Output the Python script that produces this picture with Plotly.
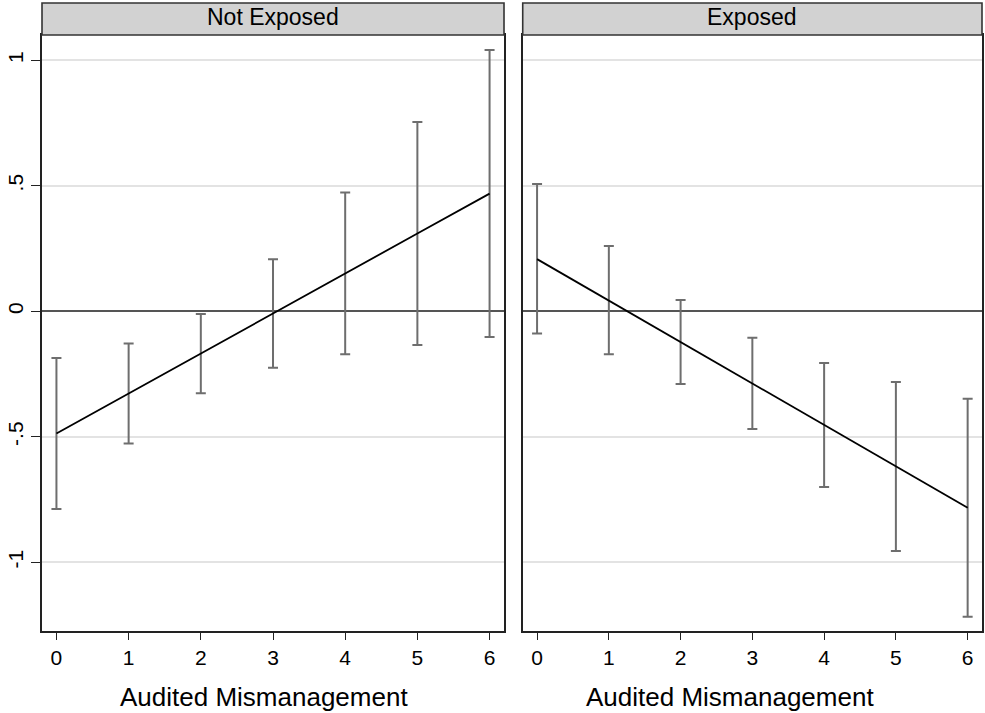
import plotly.graph_objects as go

# ---- data ----
x_vals = [0, 1, 2, 3, 4, 5, 6]
panels = ["Not Exposed", "Exposed"]

est_not_exposed = [-0.487, -0.327, -0.168, -0.009, 0.151, 0.310, 0.469]
lo_not_exposed = [-0.788, -0.527, -0.327, -0.225, -0.171, -0.134, -0.102]
hi_not_exposed = [-0.186, -0.128, -0.011, 0.207, 0.473, 0.754, 1.041]

est_exposed = [0.208, 0.043, -0.122, -0.287, -0.453, -0.618, -0.783]
lo_exposed = [-0.088, -0.171, -0.290, -0.469, -0.700, -0.955, -1.217]
hi_exposed = [0.507, 0.260, 0.045, -0.105, -0.206, -0.282, -0.349]

y_tickvals = [-1, -0.5, 0, 0.5, 1]
y_ticktext = ["-1", "-.5", "0", ".5", "1"]
x_title = "Audited Mismanagement"

FONT = "Liberation Sans, Arial, sans-serif"
BAR_COLOR = "#6e6e6e"

fig = go.Figure()

series = [
    (est_not_exposed, lo_not_exposed, hi_not_exposed, "x", "y"),
    (est_exposed, lo_exposed, hi_exposed, "x2", "y2"),
]
for est, lo, hi, xa, ya in series:
    plus = [h - e for h, e in zip(hi, est)]
    minus = [e - l for e, l in zip(est, lo)]
    fig.add_trace(go.Scatter(
        x=x_vals, y=est, mode="markers", xaxis=xa, yaxis=ya,
        marker=dict(size=0.1, color="rgba(0,0,0,0)"),
        error_y=dict(type="data", array=plus, arrayminus=minus, symmetric=False,
                     color=BAR_COLOR, thickness=2, width=5),
        showlegend=False, hoverinfo="skip",
    ))
    fig.add_trace(go.Scatter(
        x=x_vals, y=est, mode="lines", xaxis=xa, yaxis=ya,
        line=dict(color="black", width=1.8),
        showlegend=False,
    ))

xrange = [-0.2, 6.2]
yrange = [-1.274, 1.101]

common_x = dict(range=xrange, tickvals=x_vals, ticks="outside", ticklen=7,
                tickwidth=1.2, tickcolor="#222", showgrid=False, zeroline=False,
                showline=True, linecolor="#222", linewidth=1.6, mirror=True,
                tickfont=dict(size=21, color="black", family=FONT))
common_y = dict(range=yrange, tickvals=y_tickvals, showgrid=True,
                gridcolor="#e3e3e3", gridwidth=1.5, zeroline=True,
                zerolinecolor="#555555", zerolinewidth=1.8,
                showline=True, linecolor="#222", linewidth=1.6, mirror=True)

left_dom = [0.0, 0.4915]
right_dom = [0.5114, 1.0]

fig.update_layout(
    width=985, height=713,
    margin=dict(l=42, r=1, t=35, b=82),
    paper_bgcolor="white", plot_bgcolor="white",
    font=dict(family=FONT, color="black"),
    xaxis=dict(domain=left_dom, anchor="y", **common_x),
    xaxis2=dict(domain=right_dom, anchor="y2", **common_x),
    yaxis=dict(domain=[0, 1], anchor="x", ticks="outside", ticklen=9, tickwidth=1.2,
               tickcolor="#222", ticktext=y_ticktext, tickangle=-90,
               tickfont=dict(size=21, color="black", family=FONT), **common_y),
    yaxis2=dict(domain=[0, 1], anchor="x2", showticklabels=False, ticks="", **common_y),
)

header_h = 32 / 596
for i, name in enumerate(panels):
    xr = "x domain" if i == 0 else "x2 domain"
    yr = "y domain" if i == 0 else "y2 domain"
    fig.add_shape(type="rect", xref=xr, yref=yr, x0=0, x1=1, y0=1, y1=1 + header_h,
                  fillcolor="#d2d2d2", line=dict(color="#333333", width=1.6), layer="above")
    fig.add_annotation(text=name, xref=xr, yref=yr, x=0.5, y=1 + header_h * 0.56,
                       showarrow=False, xanchor="center", yanchor="middle",
                       font=dict(size=23, color="black", family=FONT))

# x-axis titles (one per panel)
for xpos in (0.2367, 0.7314):
    fig.add_annotation(text=x_title, xref="paper", yref="paper", x=xpos, y=-0.1107,
                       showarrow=False, xanchor="center", yanchor="middle",
                       font=dict(size=26, color="black", family=FONT))

fig.write_html(
    "out.html",
    config={"displayModeBar": False},
    post_script="document.body.style.margin='0';document.body.style.padding='0';"
                "document.body.style.overflow='hidden';",
)
